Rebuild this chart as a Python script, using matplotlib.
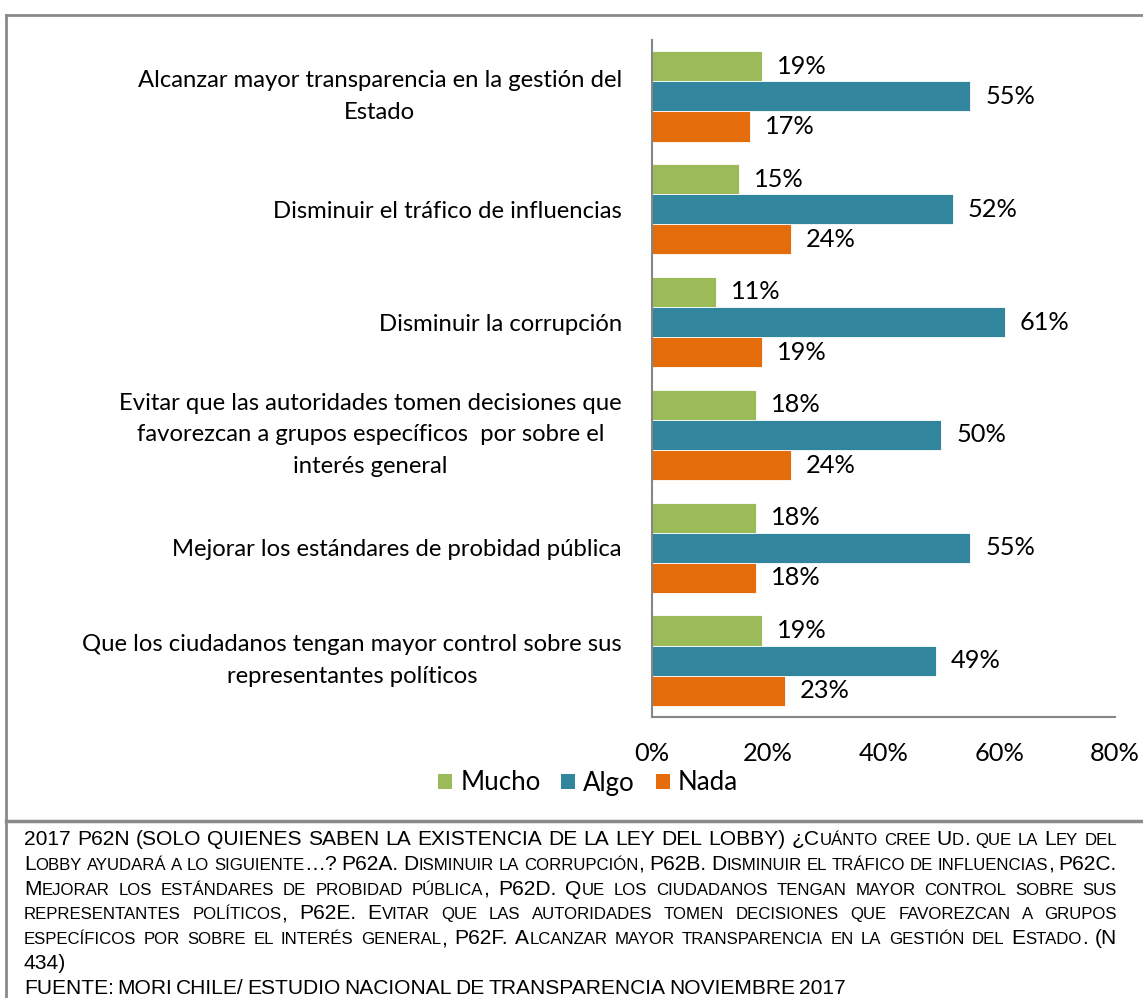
import matplotlib
matplotlib.use("Agg")
import matplotlib.pyplot as plt
import numpy as np
from matplotlib.lines import Line2D
from matplotlib.patches import Patch
from matplotlib.transforms import offset_copy
from matplotlib.font_manager import FontProperties

# ---------------- data ----------------
categories = [
    "Alcanzar mayor transparencia en la gestión del\nEstado",
    "Disminuir el tráfico de influencias",
    "Disminuir la corrupción",
    "Evitar que las autoridades tomen decisiones que\nfavorezcan a grupos específicos  por sobre el\ninterés general",
    "Mejorar los estándares de probidad pública",
    "Que los ciudadanos tengan mayor control sobre sus\nrepresentantes políticos",
]
mucho = [19, 15, 11, 18, 18, 19]
algo = [55, 52, 61, 50, 55, 49]
nada = [17, 24, 19, 24, 18, 23]
series_names = ["Mucho", "Algo", "Nada"]
xticks = [0, 20, 40, 60, 80]
xtick_labels = ["0%", "20%", "40%", "60%", "80%"]

footnote_lines = [
    "2017 P62N (SOLO QUIENES SABEN LA EXISTENCIA DE LA LEY DEL LOBBY) ¿Cuánto cree Ud. que la Ley del",
    "Lobby ayudará a lo siguiente…? P62A. Disminuir la corrupción, P62B. Disminuir el tráfico de influencias, P62C.",
    "Mejorar los estándares de probidad pública, P62D. Que los ciudadanos tengan mayor control sobre sus",
    "representantes políticos, P62E. Evitar que las autoridades tomen decisiones que favorezcan a grupos",
    "específicos por sobre el interés general, P62F. Alcanzar mayor transparencia en la gestión del Estado. (N",
    "434)",
    "FUENTE: MORI CHILE/ ESTUDIO NACIONAL DE TRANSPARENCIA NOVIEMBRE 2017",
]
justified = [True, True, True, True, True, False, False]

# ---------------- style ----------------
colors = ["#9BBB59", "#31859C", "#E46C0A"]
W, H = 1143, 998
FAM = "Lato"
FN_FAM = "Liberation Sans"

fig = plt.figure(figsize=(W / 100, H / 100), dpi=100)
renderer = fig.canvas.get_renderer()


def measure(text, family, size):
    t = fig.text(0, 0, text, fontsize=size, family=family)
    w = t.get_window_extent(renderer).width
    t.remove()
    return w


def fit(text, family, target, base=10.0):
    return base * target / measure(text, family, base)


cat_fs = fit("Disminuir la corrupción", FAM, 244)
val_fs = fit("55%", FAM, 50)
leg_fs = fit("Mucho", FAM, 80)

# axes: x 0%..80% spans px 652..1115, y px 40..717
ax = fig.add_axes([652 / W, 1 - 717 / H, (1115 - 652) / W, (717 - 40) / H])
n = len(categories)
y = np.arange(n)
h = 0.8 / 3
for k, (vals, col) in enumerate(zip([mucho, algo, nada], colors)):
    ax.barh(y + (k - 1) * h, vals, height=h, color=col, edgecolor="white", linewidth=0.6)
    trans = offset_copy(ax.transData, fig=fig, x=15, y=0, units="dots")
    for yi, v in zip(y + (k - 1) * h, vals):
        ax.text(v, yi, f"{v}%", transform=trans, ha="left", va="center",
                fontsize=val_fs, family=FAM, color="black")

ax.set_xlim(0, 80)
ax.set_ylim(n - 0.5, -0.5)
ax.set_xticks(xticks, xtick_labels)
ax.tick_params(axis="x", length=0, pad=18, labelsize=val_fs)
for lbl in ax.get_xticklabels():
    lbl.set_family(FAM)

# category labels as y tick labels
ax.set_yticks(y, categories)
ax.tick_params(axis="y", length=0, pad=(652 - 622) * 72 / 100, labelsize=cat_fs)
fp = FontProperties(family=FAM, size=cat_fs)
_, lp_h, lp_d = renderer.get_text_width_height_descent("lp", fp, ismath=False)
ls = 32 / (lp_h - lp_d) * (32 / 35) * (31.5 / 33.5)
for lbl, cat in zip(ax.get_yticklabels(), categories):
    lbl.set_family(FAM)
    lbl.set_multialignment("center")
    lbl.set_linespacing(ls)
    if "\n" in cat:
        lbl.set_verticalalignment("center")

for s in ["top", "right"]:
    ax.spines[s].set_visible(False)
for s in ["left", "bottom"]:
    ax.spines[s].set_color("#868686")
    ax.spines[s].set_linewidth(1.5)

# legend
handles = [Patch(facecolor=c, edgecolor="none") for c in colors]
leg = fig.legend(handles, series_names, loc="center", bbox_to_anchor=(588 / W, 1 - 783 / H),
                 ncol=3, frameon=False, fontsize=leg_fs, handlelength=0.55, handleheight=0.55,
                 handletextpad=0.3, columnspacing=0.8, borderaxespad=0, borderpad=0)
for t in leg.get_texts():
    t.set_family(FAM)

# frame lines
fc = "#8a8a8a"
fig.add_artist(Line2D([6 / W, 6 / W], [0, 1 - 15 / H], transform=fig.transFigure, color=fc, lw=2))
fig.add_artist(Line2D([6 / W, 1], [1 - 15 / H, 1 - 15 / H], transform=fig.transFigure, color=fc, lw=2))
fig.add_artist(Line2D([6 / W, 1], [1 - 821 / H, 1 - 821 / H], transform=fig.transFigure, color=fc, lw=2.5))

# footnote with small caps and justification
fn_fs = fit(footnote_lines[-1], FN_FAM, 836)
sc_fs = fn_fs * 0.8


def split_runs(word):
    runs = []
    for ch in word:
        small = ch.islower()
        if runs and runs[-1][1] == small:
            runs[-1][0] += ch
        else:
            runs.append([ch, small])
    return [(r.upper() if s else r, s) for r, s in runs]


space_w = measure("A A", FN_FAM, fn_fs) - measure("AA", FN_FAM, fn_fs)
x_left, x_right = 24, 1117
for i, (line, just) in enumerate(zip(footnote_lines, justified)):
    base_y = 845 + i * 24.8
    words = line.split(" ")
    wruns = [split_runs(w) for w in words]
    widths = []
    for rr in wruns:
        widths.append(sum(measure(r, FN_FAM, sc_fs if s else fn_fs) for r, s in rr))
    if just and len(words) > 1:
        gap = (x_right - x_left - sum(widths)) / (len(words) - 1)
    else:
        gap = space_w
    x = x_left
    for rr, ww in zip(wruns, widths):
        xx = x
        for r, s in rr:
            fs = sc_fs if s else fn_fs
            fig.text(xx / W, 1 - base_y / H, r, fontsize=fs, family=FN_FAM,
                     ha="left", va="baseline", color="black")
            xx += measure(r, FN_FAM, fs)
        x += ww + gap

fig.savefig("out.png", dpi=100)
